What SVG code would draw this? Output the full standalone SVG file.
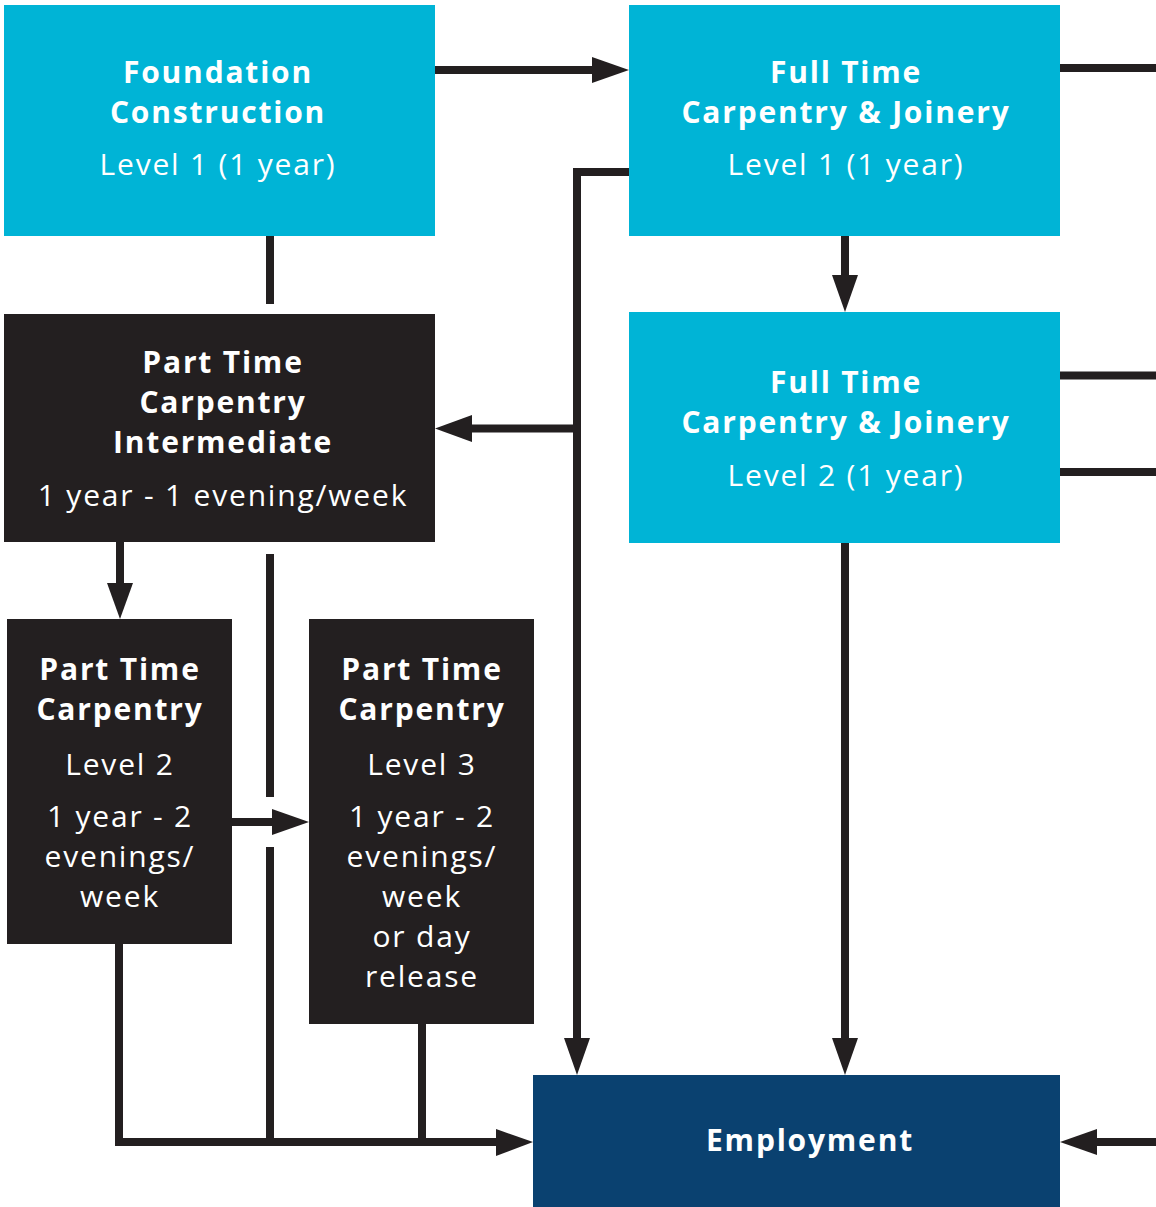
<svg xmlns="http://www.w3.org/2000/svg" width="1156" height="1207" viewBox="0 0 1156 1207">
<style>
.cyan{fill:#00b4d6}
.dark{fill:#231f20}
.navy{fill:#0a4170}
.t{font-family:"Open Sans","Liberation Sans",sans-serif;fill:#ffffff;text-anchor:middle;letter-spacing:1.8px}
.b{font-weight:700;font-size:30px}
.r{font-weight:400;font-size:30px}
.ln{stroke:#231f20;stroke-width:8;fill:none}
.ah{fill:#231f20}
</style>
<rect x="0" y="0" width="1156" height="1207" fill="#ffffff"/>
<g id="connectors">
  <line class="ln" x1="435" y1="70" x2="596" y2="70"/>
  <polygon class="ah" points="629,70 592,57 592,83"/>
  <line class="ln" x1="1060" y1="68" x2="1156" y2="68"/>
  <line class="ln" x1="1060" y1="375.5" x2="1156" y2="375.5"/>
  <line class="ln" x1="1060" y1="472" x2="1156" y2="472"/>
  <line class="ln" x1="270" y1="236" x2="270" y2="304"/>
  <polyline class="ln" points="629,172 577,172 577,1042"/>
  <polygon class="ah" points="577,1075 564,1038 590,1038"/>
  <line class="ln" x1="577" y1="428.5" x2="468" y2="428.5"/>
  <polygon class="ah" points="435,428.5 472,415 472,442"/>
  <line class="ln" x1="845" y1="236" x2="845" y2="279"/>
  <polygon class="ah" points="845,312 832,275 858,275"/>
  <line class="ln" x1="845" y1="543" x2="845" y2="1042"/>
  <polygon class="ah" points="845,1075 832,1038 858,1038"/>
  <line class="ln" x1="120" y1="542" x2="120" y2="586"/>
  <polygon class="ah" points="120,619 107,583 133,583"/>
  <line class="ln" x1="270" y1="554" x2="270" y2="797"/>
  <line class="ln" x1="270" y1="847" x2="270" y2="1142"/>
  <line class="ln" x1="232" y1="822" x2="276" y2="822"/>
  <polygon class="ah" points="309,822 272,809 272,835"/>
  <polyline class="ln" points="119,944 119,1142 500,1142"/>
  <line class="ln" x1="422" y1="1024" x2="422" y2="1142"/>
  <polygon class="ah" points="533,1142 496,1129 496,1156"/>
  <line class="ln" x1="1156" y1="1142" x2="1093" y2="1142"/>
  <polygon class="ah" points="1060,1142 1097,1129 1097,1155"/>
</g>
<g id="foundation">
  <rect class="cyan" x="4" y="5" width="431" height="231"/>
  <text class="t b" x="218" y="83">Foundation</text>
  <text class="t b" x="218" y="123">Construction</text>
  <text class="t r" x="218" y="175">Level 1 (1 year)</text>
</g>
<g id="ft-l1">
  <rect class="cyan" x="629" y="5" width="431" height="231"/>
  <text class="t b" x="846" y="83">Full Time</text>
  <text class="t b" x="846" y="123">Carpentry &amp; Joinery</text>
  <text class="t r" x="846" y="175">Level 1 (1 year)</text>
</g>
<g id="ft-l2">
  <rect class="cyan" x="629" y="312" width="431" height="231"/>
  <text class="t b" x="846" y="393">Full Time</text>
  <text class="t b" x="846" y="433">Carpentry &amp; Joinery</text>
  <text class="t r" x="846" y="486">Level 2 (1 year)</text>
</g>
<g id="pt-intermediate">
  <rect class="dark" x="4" y="314" width="431" height="228"/>
  <text class="t b" x="223" y="373">Part Time</text>
  <text class="t b" x="223" y="413">Carpentry</text>
  <text class="t b" x="223" y="453">Intermediate</text>
  <text class="t r" x="223" y="506">1 year - 1 evening/week</text>
</g>
<g id="pt-l2">
  <rect class="dark" x="7" y="619" width="225" height="325"/>
  <text class="t b" x="120" y="680">Part Time</text>
  <text class="t b" x="120" y="720">Carpentry</text>
  <text class="t r" x="120" y="775">Level 2</text>
  <text class="t r" x="120" y="827">1 year - 2</text>
  <text class="t r" x="120" y="867">evenings/</text>
  <text class="t r" x="120" y="907">week</text>
</g>
<g id="pt-l3">
  <rect class="dark" x="309" y="619" width="225" height="405"/>
  <text class="t b" x="422" y="680">Part Time</text>
  <text class="t b" x="422" y="720">Carpentry</text>
  <text class="t r" x="422" y="775">Level 3</text>
  <text class="t r" x="422" y="827">1 year - 2</text>
  <text class="t r" x="422" y="867">evenings/</text>
  <text class="t r" x="422" y="907">week</text>
  <text class="t r" x="422" y="947">or day</text>
  <text class="t r" x="422" y="987">release</text>
</g>
<g id="employment">
  <rect class="navy" x="533" y="1075" width="527" height="132"/>
  <text class="t b" x="810" y="1151">Employment</text>
</g>
</svg>
